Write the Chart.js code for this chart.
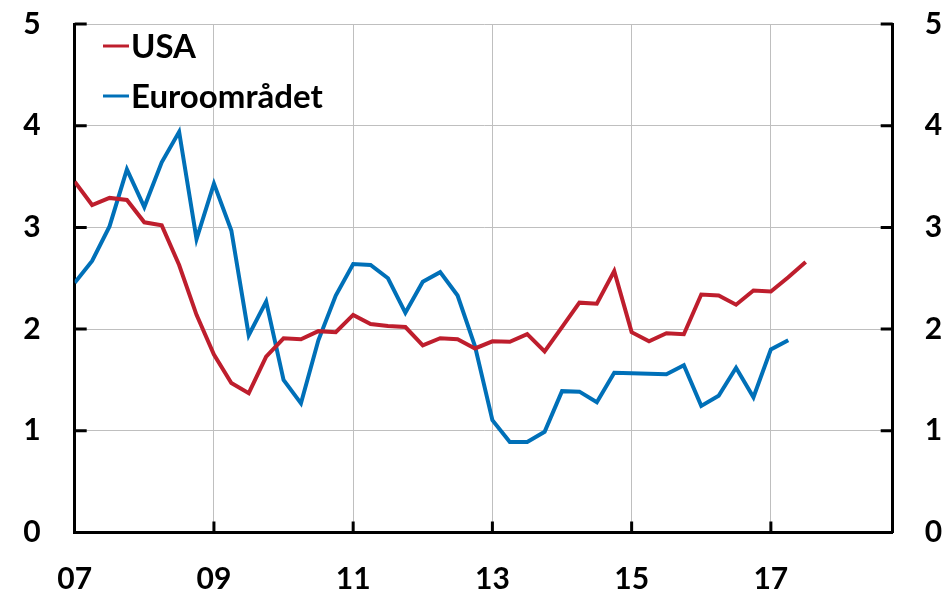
<!DOCTYPE html>
<html>
<head>
<meta charset="utf-8">
<script src="https://cdn.jsdelivr.net/npm/chart.js@4.4.1/dist/chart.umd.min.js"></script>
<style>
  html, body { margin: 0; padding: 0; background: #fff; }
  #wrap { width: 951px; height: 595px; }
</style>
</head>
<body>
<div id="wrap"><canvas id="chart"></canvas></div>
<script>
// Kvartal 0 = 2007 K1, sista position 47 = 2018 K4
const xMax = 47;
const xTicks = [0, 8, 16, 24, 32, 40];
const xTickLabels = ['07', '09', '11', '13', '15', '17'];
const yTicks = [0, 1, 2, 3, 4, 5];

const usa = [
  3.45, 3.22, 3.29, 3.27, 3.05, 3.02, 2.63, 2.14, 1.75, 1.47,
  1.37, 1.73, 1.91, 1.90, 1.98, 1.97, 2.14, 2.05, 2.03, 2.02,
  1.84, 1.91, 1.90, 1.81, 1.88, 1.875, 1.95, 1.78, 2.02, 2.26,
  2.25, 2.57, 1.97, 1.88, 1.96, 1.95, 2.34, 2.33, 2.24, 2.38,
  2.37, 2.51, 2.66
];

const euro = [
  2.455, 2.67, 3.01, 3.57, 3.20, 3.64, 3.94, 2.885, 3.43, 2.97,
  1.94, 2.27, 1.50, 1.27, 1.89, 2.33, 2.64, 2.63, 2.50, 2.16,
  2.465, 2.56, 2.33, 1.83, 1.105, 0.89, 0.89, 0.99, 1.39, 1.385,
  1.28, 1.57, 1.565, 1.56, 1.555, 1.645, 1.245, 1.345, 1.62, 1.33,
  1.80, 1.89
];

const font = { family: 'Lato, "Open Sans", sans-serif', size: 30, weight: 'bold', lineHeight: 1 };

// ritar de inåtvända skalstrecken
const inwardTicks = {
  id: 'inwardTicks',
  afterDraw(chart) {
    const ctx = chart.ctx;
    const x = chart.scales.x, y = chart.scales.y;
    ctx.save();
    ctx.strokeStyle = '#000';
    ctx.lineWidth = 3;
    ctx.beginPath();
    yTicks.forEach(v => {
      const py = y.getPixelForValue(v);
      ctx.moveTo(x.left, py); ctx.lineTo(x.left + 12, py);
      ctx.moveTo(x.right, py); ctx.lineTo(x.right - 12, py);
    });
    xTicks.slice(1).forEach(v => {
      const px = x.getPixelForValue(v);
      ctx.moveTo(px, y.bottom); ctx.lineTo(px, y.bottom - 11);
    });
    ctx.stroke();
    ctx.restore();
  }
};

// legenden inne i diagrammet
const innerLegend = {
  id: 'innerLegend',
  afterDraw(chart) {
    const ctx = chart.ctx;
    ctx.save();
    ctx.font = 'bold 33px Lato, "Open Sans", sans-serif';
    ctx.textBaseline = 'middle';
    chart.data.datasets.forEach((ds, i) => {
      const ly = 46 + i * 50;
      ctx.strokeStyle = ds.borderColor;
      ctx.lineWidth = 3;
      ctx.beginPath();
      ctx.moveTo(103, ly); ctx.lineTo(129, ly);
      ctx.stroke();
      ctx.fillStyle = '#000';
      ctx.fillText(ds.label, 131, ly + 1);
    });
    ctx.restore();
  }
};

new Chart(document.getElementById('chart'), {
  type: 'line',
  data: {
    datasets: [
      {
        label: 'USA',
        data: usa.map((v, i) => ({ x: i, y: v })),
        borderColor: '#BE1E2D',
        borderWidth: 4,
        pointRadius: 0,
        tension: 0
      },
      {
        label: 'Euroområdet',
        data: euro.map((v, i) => ({ x: i, y: v })),
        borderColor: '#0070B8',
        borderWidth: 4,
        pointRadius: 0,
        tension: 0
      }
    ]
  },
  options: {
    responsive: true,
    maintainAspectRatio: false,
    animation: false,
    layout: { padding: { top: 0 } },
    plugins: {
      legend: { display: false },
      tooltip: { enabled: false }
    },
    scales: {
      x: {
        type: 'linear',
        min: 0,
        max: xMax,
        afterBuildTicks: s => { s.ticks = xTicks.map(v => ({ value: v })); },
        afterFit: s => { s.height = 62.5; },
        ticks: {
          font: font,
          color: '#000',
          padding: 32,
          maxRotation: 0,
          callback: (v) => xTickLabels[xTicks.indexOf(v)]
        },
        grid: { color: '#BFBFBF', lineWidth: 1, drawTicks: false },
        border: { color: '#000', width: 3 }
      },
      y: {
        position: 'left',
        min: 0,
        max: 5,
        afterBuildTicks: s => { s.ticks = yTicks.map(v => ({ value: v })); },
        afterFit: s => { s.width = 74.7; s.paddingTop = 24; },
        ticks: { font: font, color: '#000', padding: 34 },
        grid: { color: '#BFBFBF', lineWidth: 1, drawTicks: false },
        border: { color: '#000', width: 3 }
      },
      y2: {
        position: 'right',
        min: 0,
        max: 5,
        afterBuildTicks: s => { s.ticks = yTicks.map(v => ({ value: v })); },
        afterFit: s => { s.width = 58.3; s.paddingTop = 24; },
        ticks: { font: font, color: '#000', padding: 32 },
        grid: { display: false, drawTicks: false },
        border: { color: '#000', width: 3 }
      }
    }
  },
  plugins: [inwardTicks, innerLegend]
});
</script>
</body>
</html>
